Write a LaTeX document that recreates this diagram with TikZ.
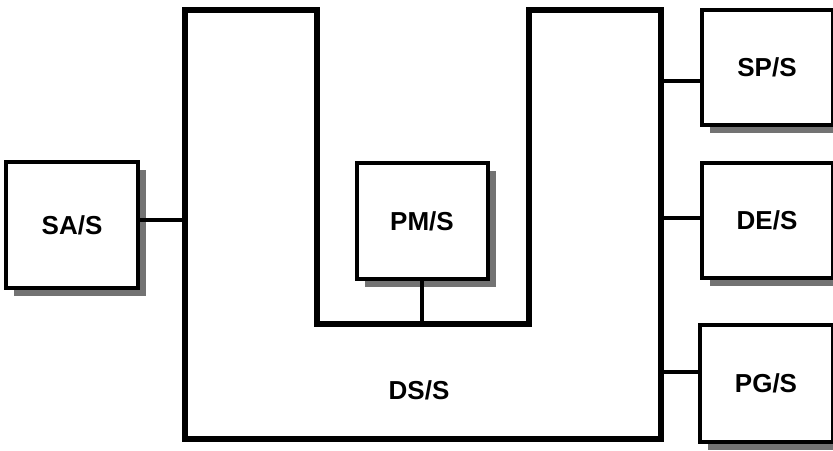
\documentclass[tikz,border=0pt]{standalone}
\usepackage{fontspec}
\setmainfont{Liberation Sans}
\usetikzlibrary{shadows}
\tikzset{
  lbl/.style={font=\bfseries\fontsize{26}{30}\selectfont},
  sbox/.style={draw, line width=4pt, fill=white, inner sep=0pt, lbl,
    drop shadow={shadow xshift=8pt, shadow yshift=-8pt, fill=black!55, opacity=1}},
  wire/.style={line width=3.5pt},
  ushape/.style={line width=5.5pt, line join=miter},
}
\begin{document}
\begin{tikzpicture}[x=1pt,y=-1pt]
\useasboundingbox (0,0) rectangle (833,450);
% U-shaped DS/S
\coordinate (u1) at (185,10);
\coordinate (u2) at (317,10);
\coordinate (u3) at (317,324);
\coordinate (u4) at (529,324);
\coordinate (u5) at (529,10);
\coordinate (u6) at (661,10);
\coordinate (u7) at (661,439);
\coordinate (u8) at (185,439);
\draw[ushape] (u1) -- (u2) -- (u3) -- (u4) -- (u5) -- (u6) -- (u7) -- (u8) -- cycle;
\node[lbl] (ds) at (419,390) {DS/S};
% boxes
\node[sbox, minimum width=132pt, minimum height=126pt] (sa) at (72,225) {SA/S};
\node[sbox, minimum width=131pt, minimum height=116pt] (pm) at (422,221) {PM/S};
\node[sbox, minimum width=131pt, minimum height=115pt] (sp) at (767,67.5) {SP/S};
\node[sbox, minimum width=131pt, minimum height=115pt] (de) at (767,220.5) {DE/S};
\node[sbox, minimum width=133pt, minimum height=117pt] (pg) at (766,383.5) {PG/S};
% connectors
\coordinate (ua) at (185,220);
\draw[wire] (sa.east |- ua) -- (ua);
\draw[wire] (pm.south) -- (pm.south |- u4);
\coordinate (us) at (661,81);
\coordinate (ud) at (661,218);
\coordinate (ug) at (661,372);
\draw[wire] (us) -- (us -| sp.west);
\draw[wire] (ud) -- (ud -| de.west);
\draw[wire] (ug) -- (ug -| pg.west);
\end{tikzpicture}
\end{document}
